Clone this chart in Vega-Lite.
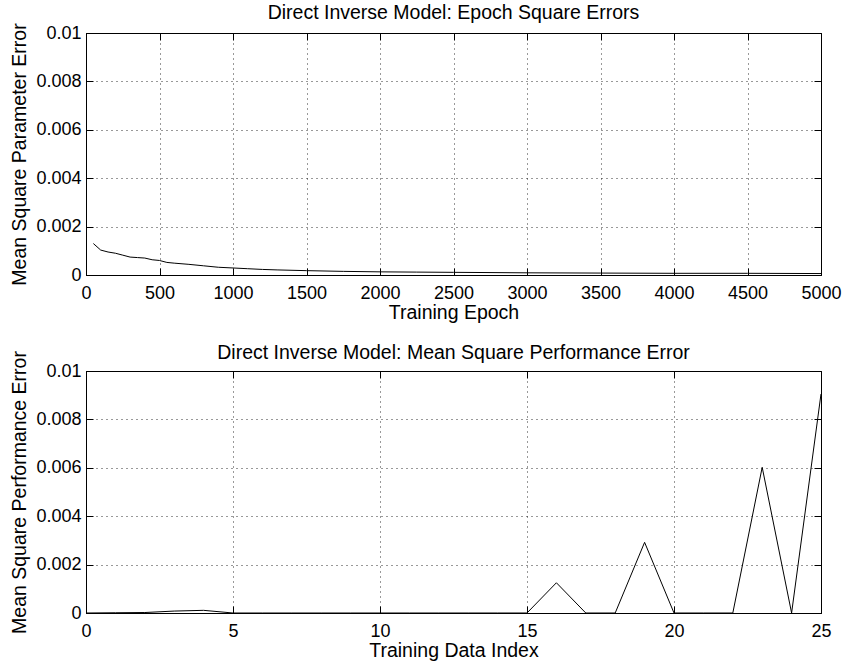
{
  "$schema": "https://vega.github.io/schema/vega-lite/v6.json",
  "background": "white",
  "padding": {"left": 9, "top": 2, "right": 20, "bottom": 2},
  "spacing": 20,
  "config": {
    "font": "Liberation Sans",
    "view": {"stroke": "black", "strokeWidth": 1},
    "title": {"fontSize": 19.5, "fontWeight": "normal", "color": "black", "offset": -1, "font": "Liberation Sans"},
    "axis": {
      "labelFont": "Liberation Sans",
      "titleFont": "Liberation Sans",
      "labelFontSize": 18,
      "titleFontSize": 19.5,
      "titleFontWeight": "normal",
      "labelColor": "black",
      "titleColor": "black",
      "domainColor": "black",
      "tickColor": "black",
      "tickSize": -7,
      "labelPadding": 12,
      "gridColor": "black",
      "gridDash": [1, 4],
      "gridOpacity": 0.8,
      "gridWidth": 1
    }
  },
  "datasets": {
    "epoch": [
      {"epoch": 50, "err": 0.00130},
      {"epoch": 100, "err": 0.00103},
      {"epoch": 150, "err": 0.00095},
      {"epoch": 200, "err": 0.00090},
      {"epoch": 250, "err": 0.00082},
      {"epoch": 300, "err": 0.00074},
      {"epoch": 350, "err": 0.00072},
      {"epoch": 400, "err": 0.00070},
      {"epoch": 450, "err": 0.00063},
      {"epoch": 500, "err": 0.00060},
      {"epoch": 550, "err": 0.00052},
      {"epoch": 600, "err": 0.00049},
      {"epoch": 700, "err": 0.00044},
      {"epoch": 800, "err": 0.00038},
      {"epoch": 900, "err": 0.00032},
      {"epoch": 1000, "err": 0.00029},
      {"epoch": 1100, "err": 0.00026},
      {"epoch": 1200, "err": 0.00023},
      {"epoch": 1300, "err": 0.00021},
      {"epoch": 1500, "err": 0.00018},
      {"epoch": 1750, "err": 0.00015},
      {"epoch": 2000, "err": 0.00013},
      {"epoch": 2250, "err": 0.00012},
      {"epoch": 2500, "err": 0.00011},
      {"epoch": 3000, "err": 0.00009},
      {"epoch": 3500, "err": 0.00008},
      {"epoch": 4000, "err": 0.00007},
      {"epoch": 4500, "err": 0.00007},
      {"epoch": 5000, "err": 0.00006}
    ],
    "perf": [
      {"idx": 0, "err": 0.0},
      {"idx": 1, "err": 0.00001},
      {"idx": 2, "err": 0.00002},
      {"idx": 3, "err": 0.00008},
      {"idx": 4, "err": 0.00011},
      {"idx": 5, "err": 0.0},
      {"idx": 6, "err": 0.0},
      {"idx": 7, "err": 0.0},
      {"idx": 8, "err": 0.0},
      {"idx": 9, "err": 0.0},
      {"idx": 10, "err": 0.0},
      {"idx": 11, "err": 0.0},
      {"idx": 12, "err": 0.0},
      {"idx": 13, "err": 0.0},
      {"idx": 14, "err": 0.0},
      {"idx": 15, "err": 0.0},
      {"idx": 16, "err": 0.00125},
      {"idx": 17, "err": 0.0},
      {"idx": 18, "err": 0.0},
      {"idx": 19, "err": 0.00292},
      {"idx": 20, "err": 0.0},
      {"idx": 21, "err": 0.0},
      {"idx": 22, "err": 0.0},
      {"idx": 23, "err": 0.00602},
      {"idx": 24, "err": 0.0},
      {"idx": 25, "err": 0.00905}
    ]
  },
  "vconcat": [
    {
      "title": "Direct Inverse Model: Epoch Square Errors",
      "width": 735,
      "height": 242,
      "data": {"name": "epoch"},
      "layer": [
        {
          "mark": {"type": "line", "color": "black", "strokeWidth": 1},
          "encoding": {
            "x": {"field": "epoch", "type": "quantitative", "scale": {"domain": [0, 5000], "nice": false},
                  "axis": {"title": "Training Epoch", "values": [0,500,1000,1500,2000,2500,3000,3500,4000,4500,5000], "format": "d", "grid": true, "labelPadding": 16, "titlePadding": 1, "labelFlush": false}},
            "y": {"field": "err", "type": "quantitative", "scale": {"domain": [0, 0.01], "nice": false},
                  "axis": {"title": "Mean Square Parameter Error", "values": [0,0.002,0.004,0.006,0.008,0.01], "format": "~g", "grid": true, "titlePadding": 6, "labelFlush": false}}
          }
        },
        {
          "mark": {"type": "line", "opacity": 0},
          "encoding": {
            "x": {"field": "epoch", "type": "quantitative", "scale": {"domain": [0, 5000], "nice": false},
                  "axis": {"orient": "top", "title": null, "labels": false, "labelPadding": 0, "domain": false, "grid": false, "values": [0,500,1000,1500,2000,2500,3000,3500,4000,4500,5000]}},
            "y": {"field": "err", "type": "quantitative", "scale": {"domain": [0, 0.01], "nice": false},
                  "axis": {"orient": "right", "title": null, "labels": false, "labelPadding": 0, "domain": false, "grid": false, "values": [0,0.002,0.004,0.006,0.008,0.01]}}
          }
        }
      ],
      "resolve": {"scale": {"x": "independent", "y": "independent"}, "axis": {"x": "independent", "y": "independent"}}
    },
    {
      "title": {"text": "Direct Inverse Model: Mean Square Performance Error", "offset": -13},
      "width": 735,
      "height": 242,
      "data": {"name": "perf"},
      "layer": [
        {
          "mark": {"type": "line", "color": "black", "strokeWidth": 1},
          "encoding": {
            "x": {"field": "idx", "type": "quantitative", "scale": {"domain": [0, 25], "nice": false},
                  "axis": {"title": "Training Data Index", "values": [0,5,10,15,20,25], "format": "d", "grid": true, "labelPadding": 16, "titlePadding": 1, "labelFlush": false}},
            "y": {"field": "err", "type": "quantitative", "scale": {"domain": [0, 0.01], "nice": false},
                  "axis": {"title": "Mean Square Performance Error", "values": [0,0.002,0.004,0.006,0.008,0.01], "format": "~g", "grid": true, "titlePadding": 6, "labelFlush": false}}
          }
        },
        {
          "mark": {"type": "line", "opacity": 0},
          "encoding": {
            "x": {"field": "idx", "type": "quantitative", "scale": {"domain": [0, 25], "nice": false},
                  "axis": {"orient": "top", "title": null, "labels": false, "labelPadding": 0, "domain": false, "grid": false, "values": [0,5,10,15,20,25]}},
            "y": {"field": "err", "type": "quantitative", "scale": {"domain": [0, 0.01], "nice": false},
                  "axis": {"orient": "right", "title": null, "labels": false, "labelPadding": 0, "domain": false, "grid": false, "values": [0,0.002,0.004,0.006,0.008,0.01]}}
          }
        }
      ],
      "resolve": {"scale": {"x": "independent", "y": "independent"}, "axis": {"x": "independent", "y": "independent"}}
    }
  ]
}
